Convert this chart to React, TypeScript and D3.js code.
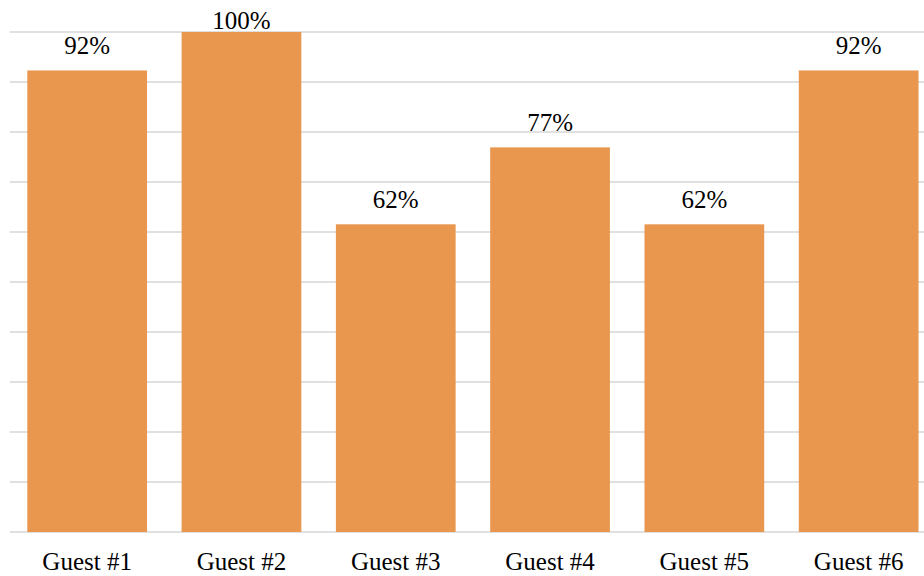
import React from "react";
import * as d3 from "d3";

const categories = ["Guest #1", "Guest #2", "Guest #3", "Guest #4", "Guest #5", "Guest #6"];
const values = [12 / 13, 1, 8 / 13, 10 / 13, 8 / 13, 12 / 13];
const gridTicks = [0, 0.1, 0.2, 0.3, 0.4, 0.5, 0.6, 0.7, 0.8, 0.9, 1.0];

const W = 924;
const H = 576;
const FONT = "Liberation Serif";

export default function App() {
  const x = d3.scaleBand<string>().domain(categories).range([10, 935.8]).paddingInner(0.224).paddingOuter(0.112);
  const y = d3.scaleLinear().domain([0, 1]).range([532, 32]);
  const fmt = d3.format(".0%");
  return (
    <svg width={W} height={H} style={{ position: "absolute", left: 0, top: 0, background: "#fff", fontFamily: FONT }}>
      {gridTicks.map((t) => (
        <line key={t} x1={10} x2={W} y1={y(t)} y2={y(t)} stroke="#d6d6d6" strokeWidth={1.5} />
      ))}
      {categories.map((c, i) => (
        <rect key={c} x={x(c)} y={y(values[i])} width={x.bandwidth()} height={y(0) - y(values[i])} fill="#e9974f" />
      ))}
      {categories.map((c, i) => (
        <text key={c + "v"} x={(x(c) as number) + x.bandwidth() / 2} y={Math.max(y(values[i]) - 16.5, 29)}
          textAnchor="middle" fontSize={25} fill="#000" style={{ fontFamily: FONT }}>
          {fmt(values[i])}
        </text>
      ))}
      {categories.map((c) => (
        <text key={c + "l"} x={(x(c) as number) + x.bandwidth() / 2} y={570} textAnchor="middle" fontSize={25} fill="#000"
          style={{ fontFamily: FONT }}>
          {c}
        </text>
      ))}
    </svg>
  );
}
